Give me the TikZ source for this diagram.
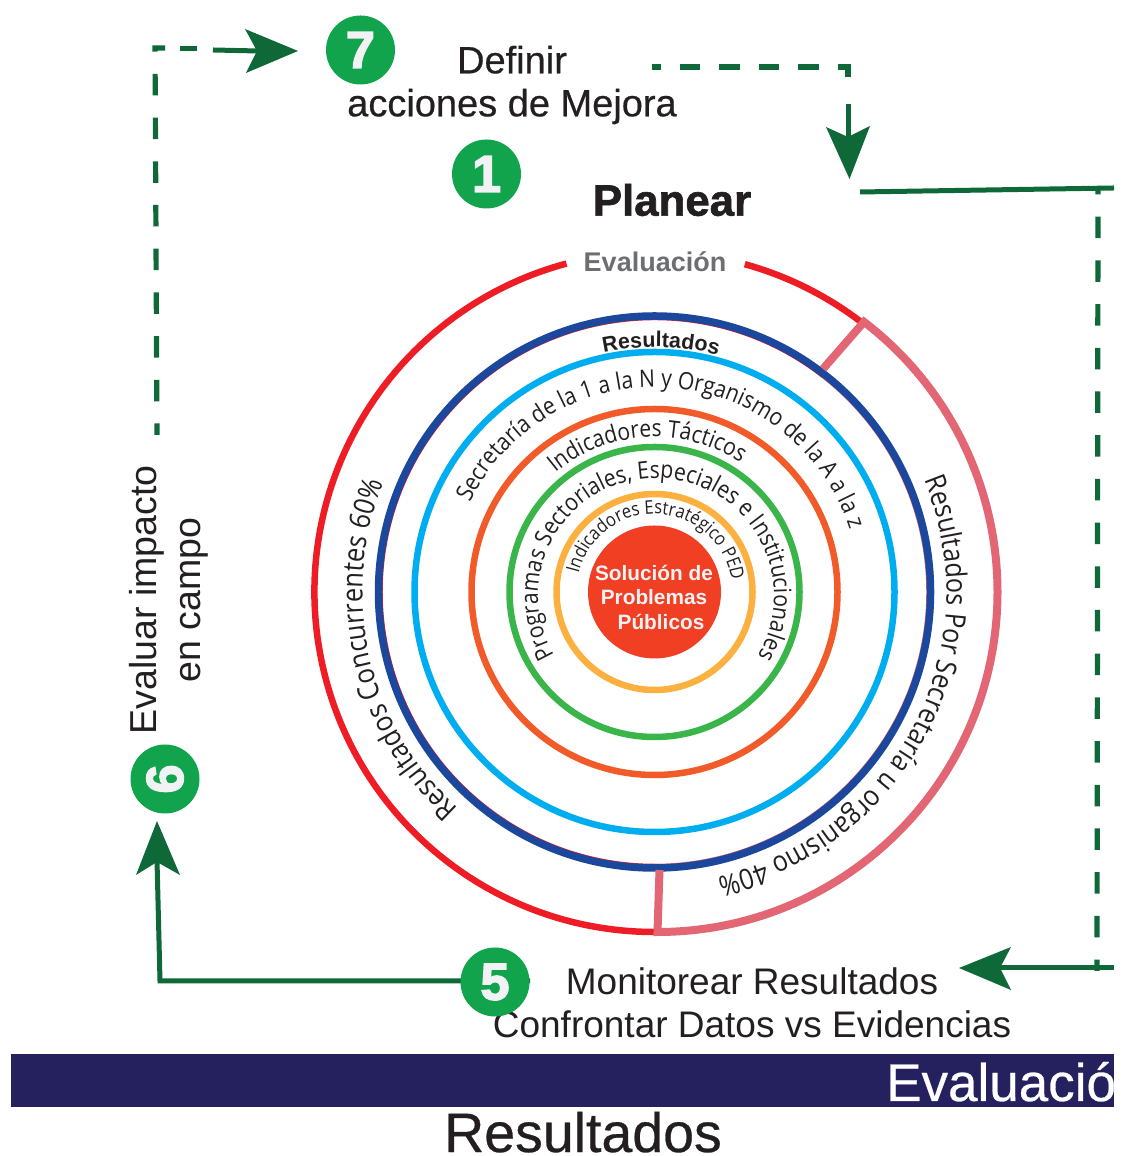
\documentclass[tikz,border=0pt]{standalone}
\usepackage{fontspec}
\setmainfont{Liberation Sans}
\newfontfamily\ringfont[FakeStretch=0.88]{Open Sans}
\newfontfamily\medfont[FakeBold=0.5]{Liberation Sans}
\newfontfamily\heavyfont[FakeBold=1.5]{Liberation Sans Bold}
\newfontfamily\blackfont[FakeBold=3]{Liberation Sans Bold}
\usetikzlibrary{decorations.text}
\definecolor{arrowgreen}{HTML}{0F6838}
\definecolor{badgegreen}{HTML}{11A44C}
\definecolor{badgetext}{HTML}{F1F2F4}
\definecolor{ink}{HTML}{231F20}
\definecolor{inkgrey}{HTML}{6D6E71}
\definecolor{ringred}{HTML}{EE1C25}
\definecolor{ringpink}{HTML}{E26673}
\definecolor{ringblue}{HTML}{1B479C}
\definecolor{ringsky}{HTML}{00AEEF}
\definecolor{ringorange}{HTML}{F15A29}
\definecolor{ringgreen}{HTML}{39B54A}
\definecolor{ringyellow}{HTML}{FBB040}
\definecolor{corered}{HTML}{F13F24}
\definecolor{barblue}{HTML}{25215F}
\newcommand\fsz[1]{\fontsize{#1}{#1}\selectfont}
\newcommand\ringtext[7][c]{%
  \path[decorate,decoration={text along path,text align=center,
    text={|\fsz{#5}\color{ink}#6|#7}}]
    (#1) ++({#2+#3}:#4) arc[start angle={#2+#3},end angle={#2-#3},radius=#4];}
\tikzset{
  x=1pt,y=1pt,
  badge/.style={circle,fill=badgegreen,minimum size=69pt,inner sep=0pt,text=badgetext,font=\fsz{52}\blackfont},
  solidline/.style={draw=arrowgreen,line width=5pt},
  dashline/.style={draw=arrowgreen,line width=5.2pt,dash pattern=on 21.5pt off 22.2pt},
  headfill/.style={fill=arrowgreen,draw=none},
  label/.style={text=ink,inner sep=0pt},
}
\begin{document}
\begin{tikzpicture}
\useasboundingbox (0,0) rectangle (1128,1156);
\coordinate (c) at (654.5,564);
\coordinate (c2) at (656,560);
% outer rings
\draw[ringred,line width=6.5pt] (c) ++(105:340) arc[start angle=105,end angle=270,radius=340];
\draw[ringred,line width=6.5pt] (c) ++(74.6:340) arc[start angle=74.6,end angle=52.6,radius=340];
\draw[ringred,line width=1.5pt] (c) ++(52:272.5) arc[start angle=52,end angle=270,radius=272.5];
\draw[ringpink,line width=1.5pt] (c) ++(52:272.5) arc[start angle=52,end angle=-90,radius=272.5];
\draw[ringblue,line width=7.5pt] (c) circle[radius=276];
\draw[ringpink,line width=8pt,line join=miter] (c) ++(-90:276)++(5,-2) -- (657.5,224) arc[start angle=-90,end angle=52.6,radius=340] -- ++(-41,-47);
\draw[ringsky,line width=6.5pt] (c) circle[radius=240];
\draw[ringorange,line width=6.5pt] (c) circle[radius=183];
\draw[ringgreen,line width=6.5pt] (c) circle[radius=145];
\draw[ringyellow,line width=6.5pt] (c) circle[radius=98];
\fill[corered] (c) circle[radius=66.5];
\node[text=badgetext,align=center,font=\fontsize{20.8}{24.5}\selectfont\bfseries,inner sep=0pt] (core) at (654,559)
  {Solución de\\Problemas\\\hspace{14pt}Públicos};
% ring labels
\node[text=inkgrey,font=\fsz{27}\bfseries,inner sep=0pt] (evalring) at (655,894) {Evaluación};
\ringtext{88.5}{60}{245}{21.4}{\bfseries}{Resultados}
\ringtext{86}{85}{205}{24}{\ringfont}{Secretaría de la 1 a la N y Organismo de la A a la z}
\ringtext{93}{60}{155}{23.9}{\ringfont}{Indicadores Tácticos}
\ringtext[c2]{90}{150}{118}{24}{\ringfont}{Programas Sectoriales, Especiales e Institucionales}
\ringtext{87.5}{110}{78}{18.8}{\ringfont}{Indicadores Estratégico PED}
\ringtext{-27.5}{75}{292}{28.6}{\ringfont}{Resultados Por Secretaría u organismo 40{\%}}
\ringtext{193}{60}{292}{29}{\ringfont}{Resultados Concurrentes 60{\%}}
% flipped scope: coordinates are the reference's pixels
\begin{scope}[yscale=-1,shift={(0,-1156)}]
  \fill[barblue] (11,1054) rectangle (1114,1107);
  \begin{scope}
    \clip (11,1054) rectangle (1114,1107);
    \node[anchor=base west,text=white,font=\fsz{53}\medfont,inner sep=0pt] (evalbar) at (886,1101) {Evaluación};
  \end{scope}
  \node[anchor=base,label,font=\fsz{55.5}\medfont] (results) at (583,1152) {Resultados};
  \node[label,font=\fsz{43.8}\heavyfont] (plan) at (672,200) {Planear};
  \node[label,align=center,font=\fontsize{38}{43}\selectfont\medfont] (def) at (512,85) {Definir\\acciones de Mejora};
  \node[label,anchor=base,font=\fsz{37}] (mon1) at (752,995) {Monitorear Resultados};
  \node[label,anchor=base,font=\fsz{37}] (mon2) at (752,1038) {Confrontar Datos vs Evidencias};
  \node[label,rotate=90,align=center,font=\fontsize{37.5}{44}\selectfont] (imp) at (169,600) {Evaluar impacto\\en campo};
  % connectors
  \coordinate (a1) at (157,435); \coordinate (a2) at (155,48); \coordinate (a3) at (165,48);
  \draw[dashline,dash phase=10pt] (a1) -- (a2) -- (a3);
  \coordinate (a4) at (180,49); \coordinate (a5) at (197,49);
  \draw[solidline] (a4) -- (a5);
  \coordinate (b1) at (652,67); \coordinate (b2) at (848,67); \coordinate (b3) at (848,79);
  \draw[dashline,dash pattern=on 20.5pt off 19pt,dash phase=12pt] (b1) -- (b2) -- (b3);
  \coordinate (d1) at (1098,188); \coordinate (d2) at (1097,971);
  \draw[dashline,dash phase=15pt] (d1) -- (d2);
  \coordinate (e1) at (860,192); \coordinate (e2) at (1114,188);
  \draw[solidline] (e1) -- (e2);
  \coordinate (f1) at (1114,968); \coordinate (f2) at (1000,968);
  \draw[solidline] (f1) -- (f2);
  \fill[headfill] (959,968) -- (1011,947) -- (1000,968) -- (1011,990) -- cycle;
  \draw[solidline] (213,50) -- (258,51);
  \fill[headfill] (298,51) -- (245,29) -- (257,51) -- (246,73) -- cycle;
  \draw[solidline] (848,104) -- (848,140);
  \fill[headfill] (849.5,179) -- (826,127) -- (848,137) -- (870,126) -- cycle;
  \coordinate (g1) at (530,981); \coordinate (g2) at (160,981); \coordinate (g3) at (157,860);
  \draw[solidline] (g1) -- (g2) -- (g3);
  \fill[headfill] (157,821) -- (136,875) -- (157,862) -- (180,875) -- cycle;
  % badges
  \node[badge] (n7) at (360.5,50) {7};
  \node[badge] (n1) at (486.5,174) {1};
  \node[badge,rotate=90] (n6) at (165,779) {6};
  \node[badge] (n5) at (495,982) {5};
\end{scope}
\end{tikzpicture}
\end{document}
